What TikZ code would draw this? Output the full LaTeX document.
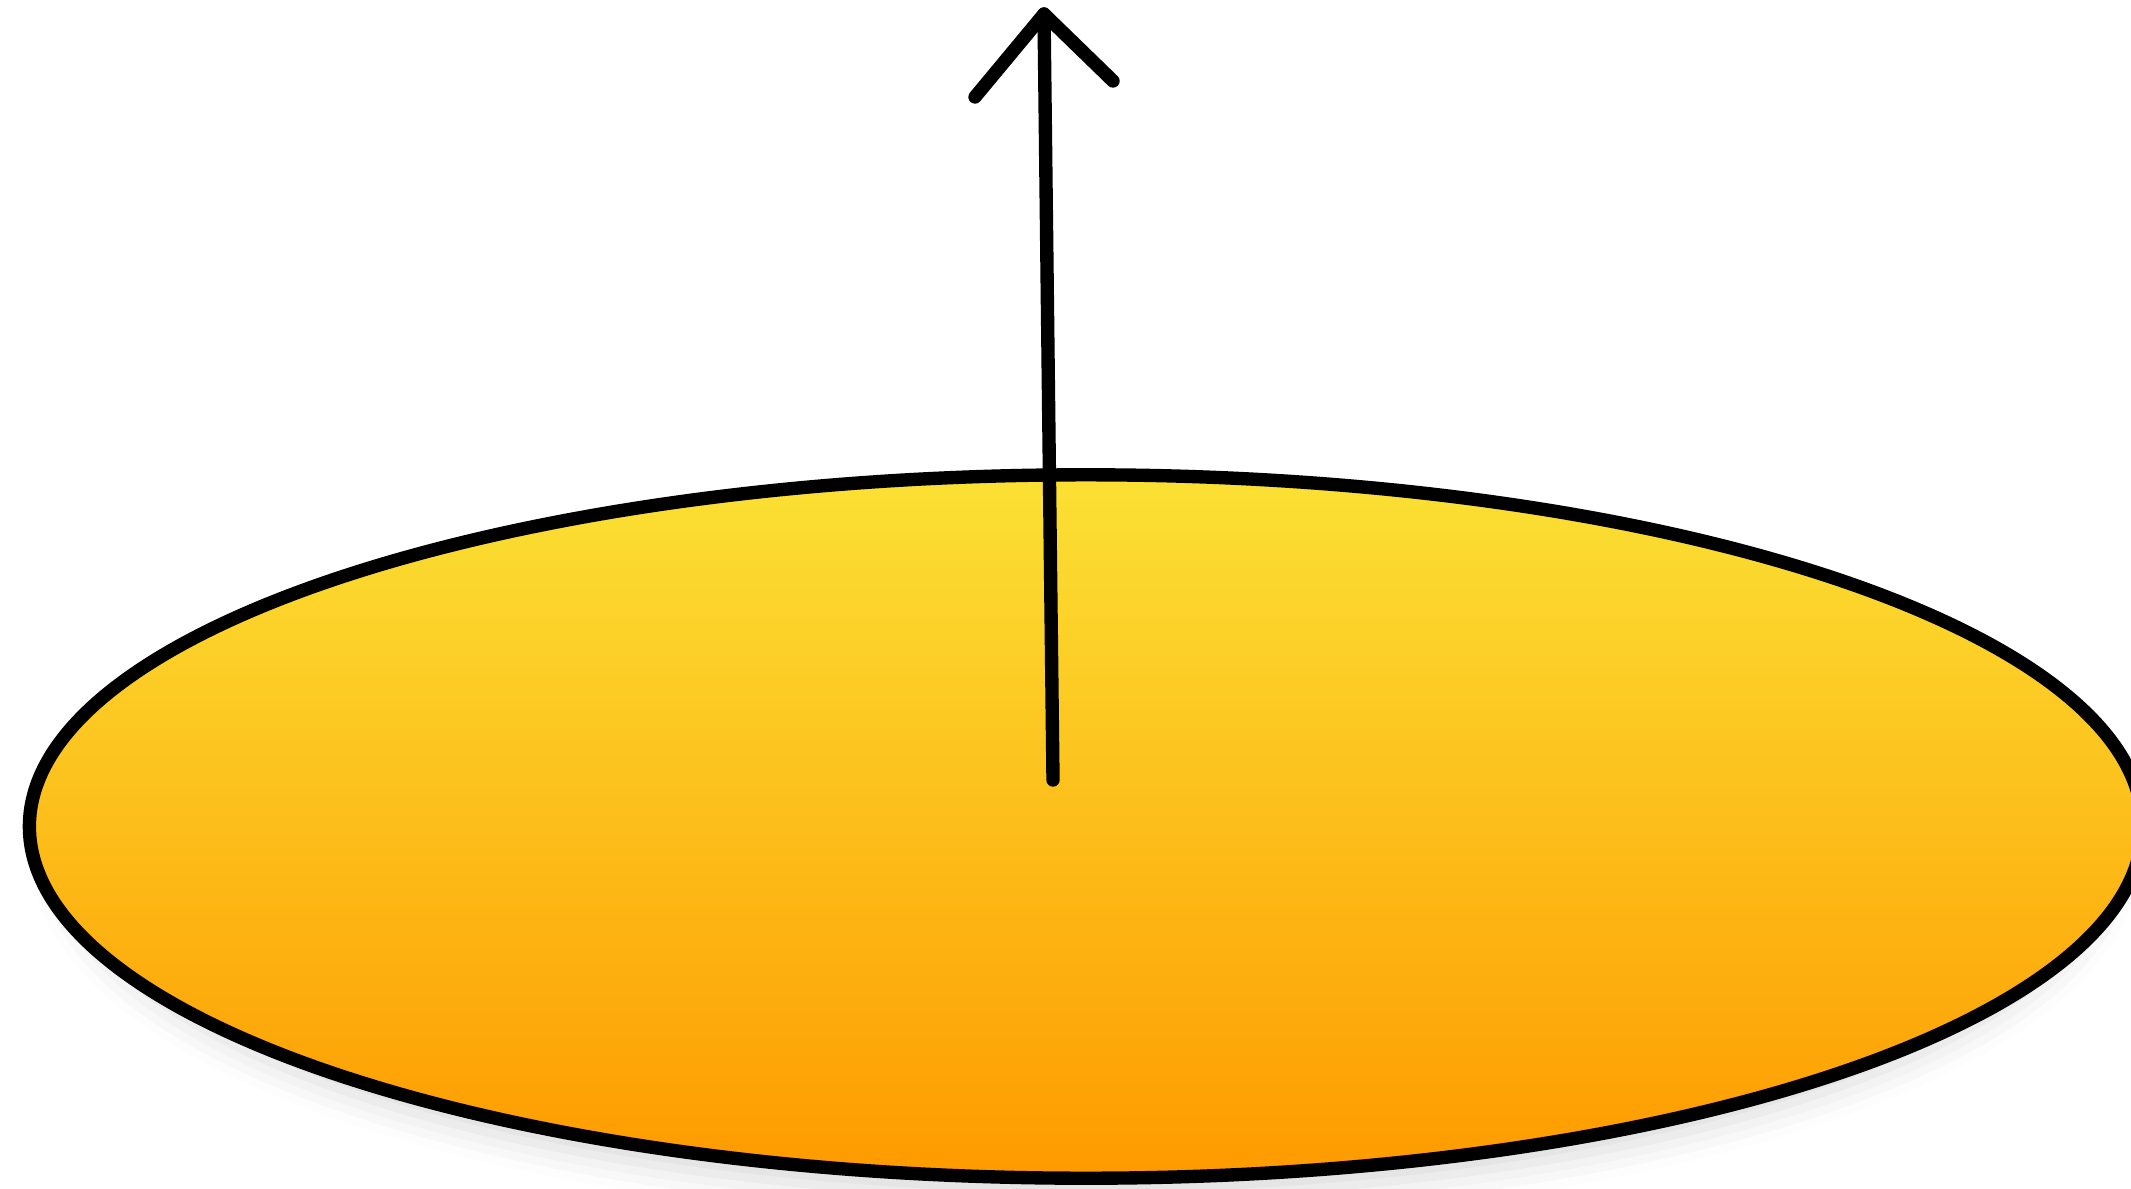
\documentclass[tikz,border=0pt]{standalone}
\usepackage{xcolor}
\usepackage{tikz}
\usetikzlibrary{
  positioning,
  shadows.blur
}
\definecolor{diskTop}{HTML}{FBE134}
\definecolor{diskBot}{HTML}{FE9A00}
\tikzset{
  crayon/.style={black,line width=3.8pt,line cap=round,line join=round},
}

\begin{document}
\begin{tikzpicture}[x=0.01cm,y=-0.01cm]
  \useasboundingbox (0,0) rectangle (2131,1188);
  \clip (0,0) rectangle (2131,1188);
  \coordinate (C) at (1086,826.5);
  \coordinate (B) at (1053,780);
  \coordinate (T) at (1044,14);
  \coordinate (L) at (975,97);
  \coordinate (R) at (1113,81);
  % 圆盘
  \shade[top color=diskTop,bottom color=diskBot,
    blur shadow={shadow xshift=0pt,shadow yshift=-0.3cm,shadow scale=0.97,
      shadow blur radius=0.3cm,shadow opacity=15}]
    (C) ellipse [x radius=10.56cm,y radius=3.515cm];
  \draw[crayon] (C) ellipse [x radius=10.56cm,y radius=3.515cm];
  % 法向量
  \draw[crayon] (B)--(T);
  \draw[crayon] (L)--(T)--(R);
\end{tikzpicture}
\end{document}
